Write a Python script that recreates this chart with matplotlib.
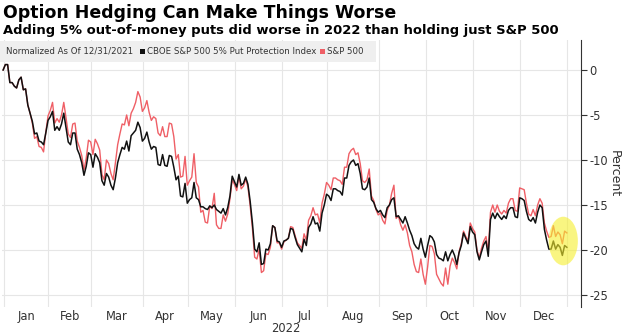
import matplotlib
matplotlib.use("Agg")
import matplotlib.pyplot as plt
from matplotlib.patches import Ellipse, Rectangle

plt.rcParams['axes.unicode_minus'] = False
plt.rcParams['font.family'] = ['DejaVu Sans']

# ---- data (percent change since 12/31/2021, one value per trading day) ----
sp500 = [
    0.0, 0.6, 0.6, -1.4, -1.4, -1.8, -2.0, -1.1, -0.8, -2.2, -2.1,
    -3.9, -4.8, -5.9, -7.6, -7.4, -8.5, -8.6, -9.1, -6.9, -5.1,
    -4.5, -3.6, -5.9, -5.4, -5.8, -5.0, -3.6, -5.3, -7.1, -7.5,
    -6.0, -5.9, -7.9, -8.6, -9.5, -11.1, -9.8, -7.8, -8.0, -9.4,
    -7.7, -8.2, -8.9, -11.6, -12.2, -10.0, -10.4, -11.5, -12.2, -10.3,
    -8.3, -7.1, -6.0, -6.1, -5.0, -6.2, -4.8, -4.3, -3.6, -2.4,
    -3.0, -4.6, -4.2, -3.4, -4.7, -5.6, -5.2, -5.4, -7.0, -7.3,
    -6.3, -7.4, -7.4, -5.9, -6.0, -7.4, -9.9, -9.4, -11.9, -11.8,
    -9.6, -12.8, -12.3, -11.9, -9.3, -12.5, -13.0, -15.8, -15.6, -16.9,
    -17.0, -15.1, -15.4, -13.7, -17.2, -17.6, -17.6, -16.1, -16.8, -16.0,
    -14.3, -12.2, -12.7, -13.4, -11.8, -13.2, -12.9, -12.1, -13.0, -15.1,
    -17.6, -20.8, -21.0, -19.9, -22.5, -22.3, -20.4, -20.5, -19.7, -17.3,
    -17.5, -19.2, -19.2, -19.9, -19.1, -18.9, -18.7, -17.4, -17.5, -18.4,
    -19.2, -19.5, -19.8, -18.2, -18.9, -16.7, -16.2, -15.3, -16.1, -16.0,
    -17.0, -14.8, -13.8, -12.5, -12.8, -13.3, -12.0, -12.0, -12.2, -12.3,
    -12.7, -10.8, -10.8, -9.3, -8.9, -8.7, -9.4, -9.2, -10.4, -12.3,
    -12.5, -12.2, -11.0, -14.0, -14.5, -15.5, -16.1, -15.9, -16.7, -17.1,
    -15.6, -15.0, -13.7, -12.8, -16.5, -16.2, -17.2, -17.8, -17.2, -18.1,
    -19.5, -20.2, -21.6, -22.4, -22.5, -21.0, -22.7, -23.8, -21.9, -19.5,
    -19.6, -20.4, -22.7, -23.2, -23.7, -24.0, -22.0, -23.8, -21.8, -20.9,
    -21.4, -22.1, -20.2, -19.3, -17.9, -18.5, -19.0, -17.0, -17.6, -18.0,
    -20.0, -20.9, -19.8, -19.0, -18.5, -20.2, -15.8, -15.0, -15.8, -15.0,
    -15.7, -16.0, -15.6, -15.9, -14.8, -14.3, -14.3, -15.6, -15.7, -13.1,
    -13.2, -13.3, -14.8, -16.0, -16.2, -15.5, -16.2, -15.0, -14.3, -14.8,
    -17.0, -17.9, -18.6, -18.5, -17.3, -18.5, -18.0, -18.3, -19.3, -17.9,
    -18.1,
]

put_protection = [
    0.0, 0.6, 0.6, -1.4, -1.4, -1.8, -2.0, -1.1, -0.8, -2.2, -2.1,
    -3.9, -4.8, -5.7, -7.1, -7.0, -7.9, -8.0, -8.3, -7.0, -5.6,
    -5.2, -4.6, -6.7, -6.3, -6.7, -6.0, -4.8, -6.4, -8.0, -8.3,
    -7.0, -7.0, -8.8, -9.4, -10.3, -11.7, -10.7, -9.2, -9.4, -10.8,
    -9.3, -9.7, -10.3, -12.3, -12.8, -11.5, -11.9, -12.8, -13.3, -12.0,
    -10.3, -9.4, -8.6, -8.8, -7.9, -9.0, -7.3, -7.0, -6.7, -5.8,
    -6.4, -7.9, -7.6, -6.9, -8.0, -8.8, -8.5, -8.6, -10.5, -10.6,
    -9.4, -10.6, -10.7, -9.5, -9.6, -10.8, -12.2, -11.8, -14.0, -14.1,
    -12.6, -14.8, -14.4, -14.2, -12.5, -14.2, -14.4, -15.2, -15.2, -15.4,
    -15.5, -15.1, -15.3, -15.0, -15.5, -15.7, -15.9, -15.4, -16.1, -15.3,
    -14.0, -11.8, -12.4, -13.0, -11.6, -12.8, -12.6, -11.9, -12.7, -14.6,
    -17.0, -19.9, -20.2, -19.2, -21.6, -21.5, -19.9, -20.0, -19.3, -17.3,
    -17.5, -19.0, -19.1, -19.7, -19.0, -18.9, -18.7, -17.6, -17.7, -18.6,
    -19.4, -19.8, -20.2, -18.8, -19.5, -17.5, -17.1, -16.3, -17.1, -17.0,
    -17.9, -15.9, -15.0, -13.8, -14.0, -14.5, -13.2, -13.2, -13.4, -13.5,
    -13.9, -12.0, -12.0, -10.6, -10.2, -10.0, -10.6, -10.4, -11.5, -13.2,
    -13.3, -13.0, -12.0, -14.4, -14.7, -15.4, -15.8, -15.6, -16.1, -16.4,
    -15.3, -15.0, -14.4, -14.2, -16.3, -16.2, -16.6, -17.0, -16.3, -17.0,
    -17.8, -18.4, -19.3, -19.7, -19.9, -18.7, -19.9, -20.8, -19.5, -18.4,
    -18.6, -19.1, -20.5, -20.9, -21.0, -21.2, -20.2, -21.2, -20.5, -20.0,
    -20.6, -21.6, -20.3, -19.5, -18.1, -18.7, -19.3, -17.4, -18.0, -18.3,
    -20.2, -21.1, -20.2, -19.4, -19.0, -20.7, -16.6, -15.9, -16.5, -15.9,
    -16.3, -16.6, -16.2, -16.5, -15.6, -15.3, -15.3, -16.3, -16.4, -14.2,
    -14.3, -14.5, -15.7, -16.6, -16.8, -16.4, -17.0, -15.8, -15.0, -15.3,
    -17.7, -18.9, -19.9, -19.9, -19.0, -19.9, -19.4, -19.7, -20.6, -19.5,
    -19.7,
]

months = ["Jan", "Feb", "Mar", "Apr", "May", "Jun",
          "Jul", "Aug", "Sep", "Oct", "Nov", "Dec"]
# index of first trading day of each month (index 0 = 12/31/2021), plus end
month_starts = [1, 21, 40, 63, 83, 104, 125, 145, 168, 189, 210, 231, 252]
yticks = [0, -5, -10, -15, -20, -25]
year_label = "2022"

title = "Option Hedging Can Make Things Worse"
subtitle = "Adding 5% out-of-money puts did worse in 2022 than holding just S&P 500"
legend_note = "Normalized As Of 12/31/2021"
name_put = "CBOE S&P 500 5% Put Protection Index"
name_sp = "S&P 500"

# highlight around the last two weeks
highlight_center = (249.4, -19.0)
highlight_size = (13.0, 5.4)

# ---- figure ----
W, H = 623, 336
fig = plt.figure(figsize=(W / 100, H / 100), dpi=100)
ax = fig.add_axes([2 / W, 1 - 307 / H, 579 / W, 267 / H])

RED = "#ef5f66"
BLACK = "#111111"
GRID = "#e6e6e6"
TXT = "#333333"

days = list(range(len(sp500)))
ax.plot(days, sp500, color=RED, lw=1.0, zorder=3)
ax.plot(days, put_protection, color=BLACK, lw=1.1, zorder=4)

ax.add_patch(Ellipse(highlight_center, highlight_size[0], highlight_size[1],
                     facecolor="#f6ef2e", alpha=0.6, edgecolor="none", zorder=5))

ax.set_xlim(-0.5, 257.3)
ax.set_ylim(-26.33, 3.33)

# vertical grid at month boundaries
bounds = [m - 0.8 for m in month_starts]
for b in bounds:
    ax.axvline(b, color=GRID, lw=0.8, zorder=1)
ax.set_xticks([])
for i, name in enumerate(months):
    ax.text((bounds[i] + bounds[i + 1]) / 2, -0.012, name,
            transform=ax.get_xaxis_transform(),
            ha="center", va="top", fontsize=8.3, color=TXT)
ax.text(0.5 * (bounds[0] + bounds[-1]), -0.058, year_label,
        transform=ax.get_xaxis_transform(), ha="center", va="top",
        fontsize=8.3, color=TXT)

ax.yaxis.tick_right()
ax.yaxis.set_label_position("right")
ax.set_yticks(yticks)
ax.set_yticklabels([str(v) for v in yticks])
ax.tick_params(axis="y", direction="out", length=4, width=0.8, color=TXT,
               labelsize=8.3, labelcolor=TXT, pad=2)
ax.set_ylabel("Percent", rotation=270, fontsize=9, color=TXT, labelpad=9)
for y in yticks:
    ax.axhline(y, color=GRID, lw=0.8, zorder=1)

for s in ["left", "top", "bottom"]:
    ax.spines[s].set_visible(False)
ax.spines["right"].set_color(TXT)
ax.spines["right"].set_linewidth(0.8)

# titles
fig.text(3 / W, 1 - 4 / H, title, fontsize=12.5, fontweight="bold",
         ha="left", va="top", color="#000000")
fig.text(3 / W, 1 - 24 / H, subtitle, fontsize=9.45, fontweight="bold",
         ha="left", va="top", color="#000000")

# legend bar
fig.patches.append(Rectangle((0, 1 - 62 / H), 376 / W, 21 / H,
                             transform=fig.transFigure, facecolor="#efefef",
                             edgecolor="none", zorder=0))
ly = 1 - 51.5 / H
fs = 6.25
sq = 5
fig.text(6 / W, ly, legend_note, fontsize=fs, va="center", ha="left", color=TXT)
fig.patches.append(Rectangle((140 / W, 1 - 54 / H), sq / W, sq / H,
                             transform=fig.transFigure, facecolor=BLACK,
                             edgecolor="none", zorder=1))
fig.text(147 / W, ly, name_put, fontsize=fs, va="center", ha="left", color=TXT)
fig.patches.append(Rectangle((320 / W, 1 - 54 / H), sq / W, sq / H,
                             transform=fig.transFigure, facecolor=RED,
                             edgecolor="none", zorder=1))
fig.text(327 / W, ly, name_sp, fontsize=fs, va="center", ha="left", color=TXT)

fig.savefig("out.png", dpi=100)
